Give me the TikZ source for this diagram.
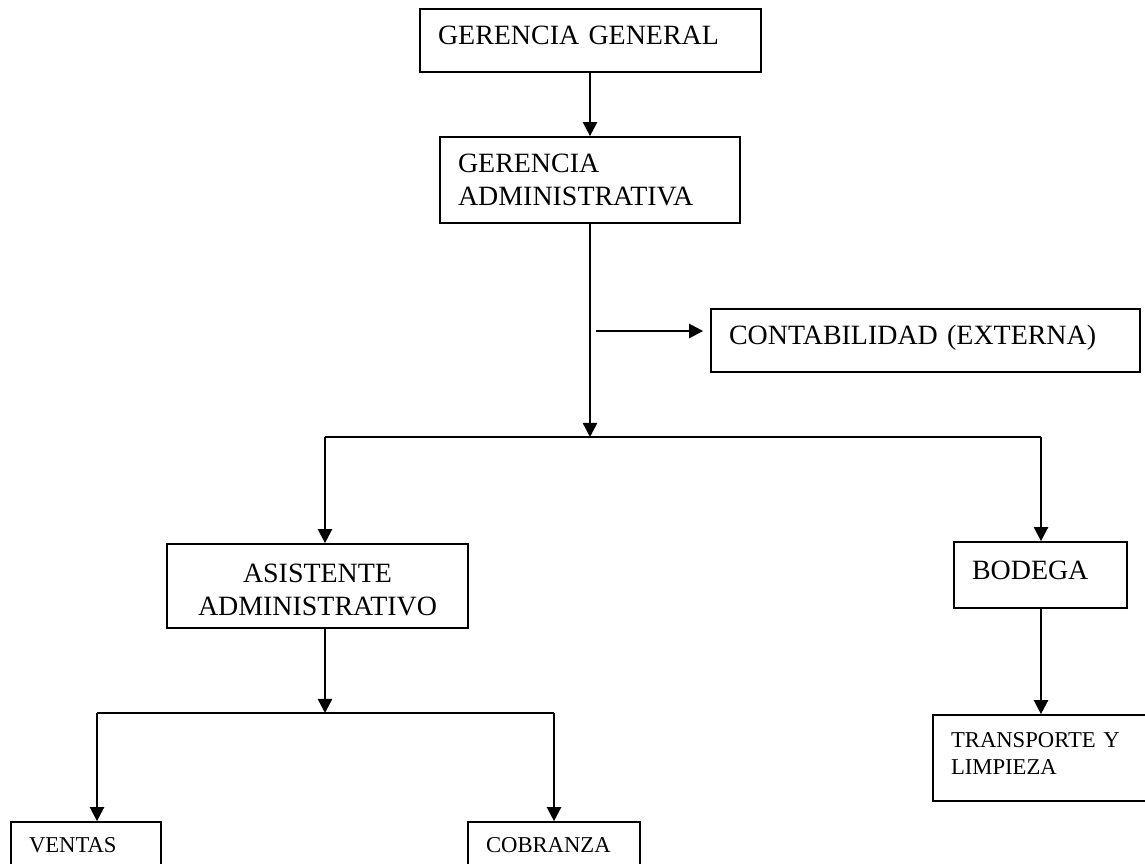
\documentclass[tikz,border=0pt]{standalone}
\usepackage{fontspec}
\setmainfont{Liberation Serif}
\usetikzlibrary{arrows.meta,positioning}

\begin{document}
\begin{tikzpicture}[x=0.02cm, y=-0.02cm, >={Triangle[width=8pt,length=8pt]}, line width=1.35pt,
    org/.style={draw, line width=1pt, inner xsep=0.36cm, inner ysep=0pt, align=left,
                font=\fontsize{15.9}{18.8}\selectfont},
    orgsmall/.style={org, font=\fontsize{12.9}{15.9}\selectfont}]

    \useasboundingbox (0,0) rectangle (1145,863);

    % Top of the chart
    \node[org, text width=6.10cm, minimum height=1.26cm, text depth=0.22cm] (gg) at (590.5,40.5) {GERENCIA GENERAL};
    \node[org, text width=5.28cm, minimum height=1.72cm] (ga) at (590,180) {GERENCIA\\ADMINISTRATIVA};
    \node[org, text width=7.86cm, minimum height=1.26cm, text depth=0.22cm] (cont) at (925.5,340.5) {CONTABILIDAD (EXTERNA)};

    % Second level
    \node[org, align=center, text width=5.30cm, minimum height=1.68cm, text height=0.51cm] (aa) at (317.5,586) {ASISTENTE\\ADMINISTRATIVO};
    \node[org, text width=2.74cm, minimum height=1.32cm, text depth=0.2cm] (bod) at (1040.5,575) {BODEGA};

    % Bottom level
    \node[orgsmall, text width=3.62cm, minimum height=1.72cm, text depth=0.74cm] (tl) at (1041.5,758) {TRANSPORTE Y\\LIMPIEZA};
    \node[orgsmall, text width=2.28cm, minimum height=0.94cm] (ven) at (86,845.5) {VENTAS};
    \node[orgsmall, text width=2.72cm, minimum height=0.94cm] (cob) at (554,845.5) {COBRANZA};

    % Branch points
    \coordinate (cside) at (596,331);
    \coordinate (split) at (590,437);
    \coordinate (sleft) at (325,437);
    \coordinate (sright) at (1041,437);
    \coordinate (asplit) at (325,713);
    \coordinate (vleft) at (97,713);
    \coordinate (vright) at (554,713);

    \draw[->] (split |- gg.south) -- (split |- ga.north);
    \draw[->] (ga.south) -- (split);
    \draw[->, shorten >=0.14cm] (cside) -- (cside -| cont.west);

    \draw (sleft) -- (sright);
    \draw[->] (sleft) -- (sleft |- aa.north);
    \draw[->] (sright) -- (sright |- bod.north);
    \draw[->] (sright |- bod.south) -- (sright |- tl.north);

    \draw[->] (asplit |- aa.south) -- (asplit);
    \draw (vleft) -- (vright);
    \draw[->] (vleft) -- (vleft |- ven.north);
    \draw[->] (vright) -- (vright |- cob.north);

\end{tikzpicture}
\end{document}
